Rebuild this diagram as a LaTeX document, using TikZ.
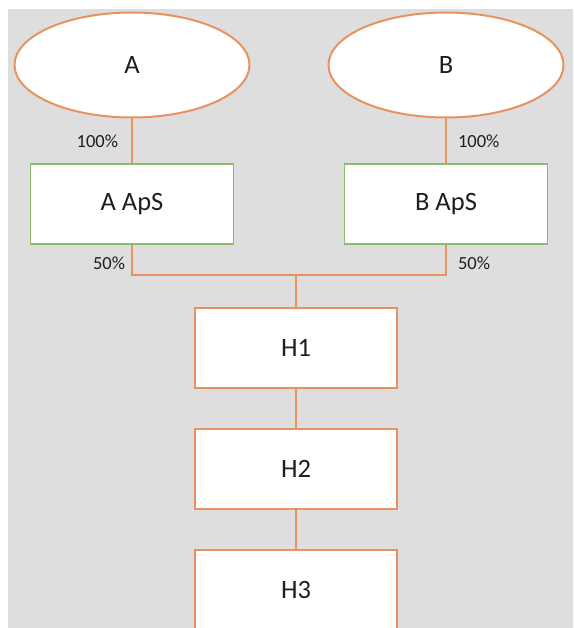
\documentclass[tikz,border=0pt]{standalone}
\usepackage{fontspec}
\setmainfont{Carlito}
\usetikzlibrary{positioning,shapes.geometric}

\definecolor{ownline}{HTML}{E8935F}
\definecolor{apsline}{HTML}{8CBB72}
\definecolor{sheet}{HTML}{DEDEDE}
\definecolor{ink}{HTML}{1E1E1E}

\begin{document}
\begin{tikzpicture}[
  x=1pt,y=1pt,
  node distance=39pt,
  owner/.style={draw=ownline,line width=2pt,fill=white,ellipse,minimum width=235pt,minimum height=105pt,inner sep=0pt,text=ink,font=\fontsize{26.5}{30}\selectfont},
  aps/.style={draw=apsline,line width=1.6pt,fill=white,minimum width=203pt,minimum height=80pt,inner sep=0pt,text=ink,font=\fontsize{26.5}{30}\selectfont},
  hold/.style={draw=ownline,line width=2pt,fill=white,minimum width=202pt,minimum height=80pt,inner sep=0pt,text=ink,font=\fontsize{26.5}{30}\selectfont},
  link/.style={ownline,line width=2pt},
  share/.style={text=ink,font=\fontsize{18.5}{21}\selectfont,inner sep=1pt}
]
\useasboundingbox (0,0) rectangle (573,-628);
\fill[sheet] (8,-9) rectangle (573,-628);
% owners
\node[owner] (a) at (132,-65) {A};
\node[owner] (b) at (446,-65) {B};
\node[aps] (aaps) at (132,-204) {A ApS};
\node[aps] (baps) at (446,-204) {B ApS};
\draw[link] (a) -- node[share,left=12pt] {100\%} (aaps);
\draw[link] (b) -- node[share,right=10pt] {100\%} (baps);
% holding chain
\node[hold] (h1) at (296,-348) {H1};
\node[hold,below=of h1] (h2) {H2};
\node[hold,below=of h2] (h3) {H3};
\coordinate (joint) at (296,-275);
\draw[link] (aaps.south) |- node[share,pos=.3,left=5pt] {50\%} (joint) -| node[share,pos=.7,right=10pt] {50\%} (baps.south);
\draw[link] (joint) -- (h1);
\draw[link] (h1) -- (h2);
\draw[link] (h2) -- (h3);
\end{tikzpicture}
\end{document}
